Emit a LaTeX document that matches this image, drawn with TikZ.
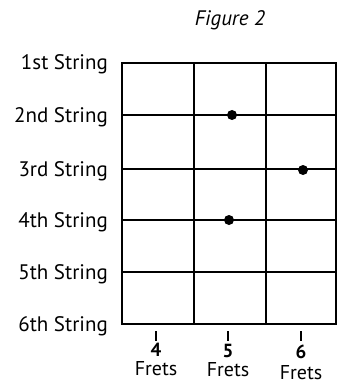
\documentclass[tikz,border=0pt]{standalone}
\usepackage{fontspec}
\setmainfont{PT Sans}
\begin{document}
\begin{tikzpicture}[x=1pt,y=-1pt,
  lbl/.style={anchor=base east,inner sep=0pt,font=\fontsize{21}{21}\selectfont},
  grid/.style={line width=1.6pt},
  border/.style={line width=2.4pt},
  dot/.style={circle,fill=black,inner sep=0pt,minimum size=10pt},
  num/.style={anchor=base,inner sep=0pt,font=\fontsize{19}{19}\selectfont\bfseries},
  fret/.style={anchor=base,inner sep=0pt,font=\fontsize{20}{20}\selectfont},
  tick/.style={line width=1.2pt}]
\useasboundingbox (0,0) rectangle (338,385);
\node[anchor=base,inner sep=0pt,font=\fontsize{21}{21}\selectfont\itshape] (title) at (230,26) {Figure 2};
% string y positions
\foreach \n/\y/\t in {s1/63/1st, s2/115/2nd, s3/169/3rd, s4/220/4th, s5/272/5th, s6/324/6th}{
  \coordinate (\n L) at (122,\y);
  \coordinate (\n R) at (336,\y);
  \node[lbl] (\n lab) at (108,\y+7) {\t\ String};
}
\foreach \n in {s2,s3,s4,s5}{ \draw[grid] (\n L) -- (\n R); }
\coordinate (f1T) at (194,63); \coordinate (f1B) at (194,324);
\coordinate (f2T) at (266,63); \coordinate (f2B) at (266,324);
\draw[grid] (f1T) -- (f1B);
\draw[grid] (f2T) -- (f2B);
\draw[border] (s1L) rectangle (s6R);
\node[dot] (d2) at (232,115) {};
\node[dot] (d3) at (303,170) {};
\node[dot] (d4) at (229,220) {};
\foreach \k/\x/\num/\ny/\fy in {a/156/4/356/375, b/228/5/357/376, c/301/6/358/379}{
  \coordinate (t\k T) at (\x,331);
  \coordinate (t\k B) at (\x,341);
  \draw[tick] (t\k T) -- (t\k B);
  \node[num] (n\k) at (\x,\ny) {\num};
  \node[fret] (fr\k) at (\x,\fy) {Frets};
}
\end{tikzpicture}
\end{document}
